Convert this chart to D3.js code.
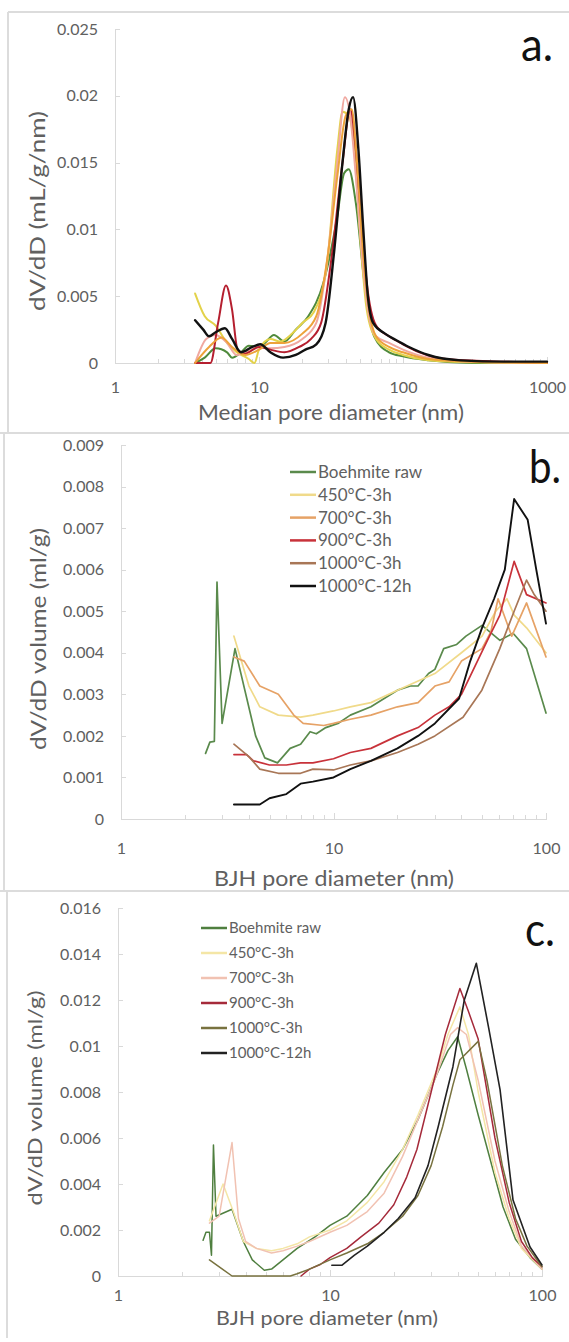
<!DOCTYPE html>
<meta charset="utf-8">
<style>
body { margin: 0; background: #fff; }
svg { display: block; font-family: Lato, "Open Sans", sans-serif; }
.axis path, .axis line { fill: none; stroke: #d9d9d9; shape-rendering: crispEdges; }
.axis text { fill: #606060; font-size: 16px; font-family: Lato, sans-serif; }
.title { fill: #606060; }
.series { fill: none; stroke-linejoin: round; stroke-linecap: round; }
.legend text { fill: #606060; }
.frame { stroke: #dcdcdc; stroke-width: 1.5; shape-rendering: crispEdges; }
</style>
<body>
<script src="https://d3js.org/d3.v7.min.js"></script>
<script>
// series names (same six samples in every panel)
var seriesNames = ["Boehmite raw", "450°C-3h", "700°C-3h", "900°C-3h", "1000°C-3h", "1000°C-12h"];

// ---- panel a : median pore diameter (nm) vs dV/dD (mL/g/nm)
var aRaw = [[3.6,0],[4.2,0.0004],[5,0.0011],[6,0.0008],[6.5,0.0004],[7.5,0.0008],[8.5,0.0013],[10,0.0012],[11,0.0015],[12.7,0.0021],[15,0.0016],[18,0.0025],[22,0.0035],[28,0.006],[35,0.011],[39,0.0142],[42,0.0145],[47,0.012],[54,0.006],[63,0.002],[80,0.0008],[100,0.0005],[150,0.0002],[300,0],[1000,0]];
var a450 = [[3.6,0.0052],[4.2,0.0035],[5,0.0028],[6,0.0015],[7,0.0008],[8.5,0.0003],[9.3,0],[10,0.001],[12,0.0018],[14,0.0016],[17,0.0022],[20,0.003],[24,0.0038],[29.5,0.0072],[35,0.016],[38,0.0188],[42,0.0185],[46,0.016],[50,0.01],[56,0.004],[65,0.0018],[80,0.001],[100,0.0006],[150,0.0002],[300,0.00005],[1000,0]];
var a700 = [[3.6,0],[4.3,0.0018],[5,0.0021],[6,0.0015],[7,0.0006],[8.5,0.0009],[10,0.0012],[12,0.0011],[15,0.0012],[20,0.0018],[25,0.003],[30,0.008],[35,0.015],[39.5,0.0199],[43,0.0185],[47,0.014],[52,0.008],[57,0.004],[65,0.002],[80,0.0015],[100,0.001],[150,0.0004],[300,0.0001],[1000,0]];
var a900 = [[3.6,0],[4.6,0],[5.2,0.003],[5.9,0.0058],[6.5,0.004],[7.1,0.001],[8,0.0007],[10,0.0012],[12,0.001],[15,0.0008],[19,0.0012],[23,0.0018],[27,0.003],[32,0.008],[38,0.015],[43,0.019],[47,0.016],[51,0.011],[56,0.006],[65,0.0028],[80,0.002],[100,0.0014],[130,0.0008],[200,0.0003],[500,0.0001],[1000,0]];
var a1000 = [[3.6,0],[4.5,0.0012],[5.5,0.0019],[6.5,0.0012],[8,0.0006],[10,0.001],[12,0.0015],[15,0.0015],[20,0.0022],[25,0.0035],[30,0.008],[35,0.014],[40,0.0185],[44,0.019],[48,0.015],[53,0.008],[58,0.004],[65,0.002],[80,0.0012],[100,0.0008],[150,0.0003],[300,0.0001],[1000,0]];
var a1000h12 = [[3.6,0.0032],[4.1,0.0025],[4.5,0.002],[5,0.0023],[5.8,0.0026],[6.5,0.0018],[7.5,0.0008],[9,0.0012],[10.2,0.0014],[12,0.0008],[14.7,0.0004],[18,0.0006],[21,0.001],[25,0.0014],[29,0.003],[33,0.008],[38,0.015],[42,0.019],[45,0.0199],[49,0.016],[53,0.01],[57,0.005],[62,0.003],[75,0.0022],[90,0.0017],[110,0.0012],[150,0.0006],[250,0.0002],[500,0.0001],[1000,0.0001]];

// ---- panel b : BJH pore diameter (nm) vs dV/dD volume (ml/g)
var bRaw = [[2.5,0.00158],[2.62,0.00185],[2.75,0.00187],[2.83,0.0057],[2.99,0.0023],[3.44,0.0041],[4.3,0.002],[4.75,0.00147],[5.45,0.00135],[6.25,0.0017],[7,0.0018],[7.76,0.0021],[8.3,0.00205],[9.2,0.0022],[10.5,0.0023],[12,0.0025],[15,0.0027],[20,0.0031],[23,0.0032],[25,0.0032],[28,0.0035],[30,0.0036],[33,0.0041],[38,0.0042],[42,0.0044],[50,0.00466],[60.7,0.0043],[70,0.00447],[81,0.0041],[100,0.00255]];
var b450 = [[3.4,0.0044],[4,0.0032],[4.5,0.0027],[5.5,0.0025],[7,0.00245],[8,0.0025],[10,0.0026],[12,0.0027],[15,0.0028],[20,0.0031],[30,0.0035],[40,0.004],[50,0.0044],[58,0.005],[65.5,0.0053],[71,0.0049],[81,0.0046],[100,0.004]];
var b700 = [[3.4,0.0039],[3.8,0.0038],[4.5,0.0032],[5.5,0.003],[6.5,0.0025],[7.2,0.0023],[9,0.00225],[10,0.0023],[12,0.0024],[15,0.0025],[20,0.0027],[25,0.0028],[30,0.0032],[35,0.0033],[40,0.0038],[50,0.0041],[55,0.0045],[59.5,0.0053],[69,0.0044],[81,0.0052],[100,0.0039]];
var b900 = [[3.4,0.00155],[3.9,0.00155],[4.2,0.0014],[5,0.0013],[6,0.0013],[7,0.00135],[8,0.00135],[10,0.00145],[12,0.0016],[15,0.0017],[20,0.002],[25,0.0022],[30,0.0025],[35,0.0027],[40,0.003],[53,0.0043],[60.6,0.0049],[70.8,0.0062],[81,0.0054],[100,0.0052]];
var b1000 = [[3.4,0.0018],[4,0.0015],[4.5,0.0012],[5.5,0.0011],[7,0.0011],[8,0.0012],[10,0.00118],[12,0.0013],[15,0.0014],[20,0.0016],[25,0.0018],[30,0.002],[40.7,0.00245],[49.9,0.0031],[60.6,0.0041],[70.8,0.005],[81,0.00575],[88,0.0054],[100,0.005]];
var b1000h12 = [[3.4,0.00035],[4.5,0.00035],[5,0.0005],[6,0.0006],[7,0.00085],[8,0.0009],[10,0.001],[12,0.0012],[15,0.0014],[20,0.0017],[25,0.002],[30,0.0023],[39,0.0029],[44,0.0038],[50,0.0046],[57,0.0053],[64,0.006],[70.8,0.0077],[82,0.0072],[90,0.006],[100,0.0047]];

// ---- panel c : BJH pore diameter (nm) vs dV/dD volume (ml/g)
var cRaw = [[2.52,0.00155],[2.6,0.0019],[2.7,0.0019],[2.76,0.0009],[2.82,0.0057],[2.9,0.0026],[3.45,0.0029],[3.9,0.0015],[4.3,0.0007],[4.9,0.00025],[5.3,0.0003],[6,0.0007],[7,0.0012],[8.5,0.0017],[10,0.0022],[12,0.0026],[15,0.0035],[18,0.0045],[22,0.0055],[26,0.0068],[32,0.0088],[36,0.0098],[40,0.0104],[44,0.009],[50,0.007],[65.5,0.003],[75,0.0016],[87.8,0.0008],[100,0.0003]];
var c450 = [[2.7,0.0024],[3.13,0.004],[3.5,0.0028],[3.9,0.0015],[4.5,0.0012],[5.3,0.0011],[6,0.0012],[7,0.0014],[8,0.0017],[10,0.002],[12,0.0024],[15,0.0032],[18,0.0041],[22,0.0055],[26,0.007],[32,0.009],[36,0.0105],[41,0.0117],[45,0.0105],[50,0.008],[60,0.0045],[70,0.0025],[80,0.0012],[100,0.0003]];
var c700 = [[2.7,0.0023],[3,0.0026],[3.45,0.0058],[3.7,0.0025],[4,0.0015],[4.5,0.0012],[5.3,0.001],[6,0.0011],[7,0.0013],[8,0.0015],[10,0.0019],[12,0.0022],[15,0.0028],[18,0.0036],[22,0.0052],[26,0.0068],[32,0.0088],[37,0.0105],[40,0.0108],[44,0.0105],[50,0.0085],[60,0.005],[70,0.0028],[80,0.0013],[100,0.0003]];
var c900 = [[7.3,0],[8,0.0003],[9,0.0005],[10,0.0008],[12,0.0012],[14,0.0017],[17,0.0023],[20,0.0031],[23,0.0043],[25.7,0.0055],[30,0.008],[35,0.0105],[41,0.0125],[45,0.0115],[50,0.0103],[60,0.006],[70,0.0032],[80,0.0015],[90,0.0008],[100,0.0004]];
var c1000 = [[2.7,0.0007],[3.45,0],[4,0],[5,0],[6.5,0],[7,0.0001],[8,0.0003],[10,0.0007],[12,0.001],[15,0.0014],[18,0.0019],[22,0.0026],[26,0.0035],[30,0.0048],[34,0.0065],[38,0.0083],[41,0.0094],[50,0.0102],[55,0.0085],[65,0.0048],[75,0.0025],[85,0.0013],[100,0.0004]];
var c1000h12 = [[10.2,0.00047],[11.4,0.00047],[13,0.0009],[15,0.0013],[18,0.0019],[21,0.0025],[25.2,0.0034],[29,0.0048],[32.4,0.0065],[38,0.0091],[43,0.012],[49,0.0136],[56,0.0108],[63.4,0.0081],[73,0.0033],[87.8,0.00126],[100,0.00048]];

// axis ticks and labels
var aYTicks = [0, 0.005, 0.01, 0.015, 0.02, 0.025];
var aYLabels = ["0", "0.005", "0.01", "0.015", "0.02", "0.025"];
var aXTicks = [1, 10, 100, 1000];
var aXLabels = ["1", "10", "100", "1000"];
var bYTicks = [0, 0.001, 0.002, 0.003, 0.004, 0.005, 0.006, 0.007, 0.008, 0.009];
var bYLabels = ["0", "0.001", "0.002", "0.003", "0.004", "0.005", "0.006", "0.007", "0.008", "0.009"];
var cYTicks = [0, 0.002, 0.004, 0.006, 0.008, 0.01, 0.012, 0.014, 0.016];
var cYLabels = ["0", "0.002", "0.004", "0.006", "0.008", "0.01", "0.012", "0.014", "0.016"];
var bcXTicks = [1, 10, 100];
var bcXLabels = ["1", "10", "100"];

var W = 569, H = 1342;
var svg = d3.select("body").append("svg")
	.attr("width", W)
	.attr("height", H);

// panel frames (the figure is three stacked screenshots)
svg.append("line").attr("class", "frame").attr("x1", 8).attr("x2", W).attr("y1", 12).attr("y2", 12);
svg.append("line").attr("class", "frame").attr("x1", 8).attr("x2", 8).attr("y1", 12).attr("y2", 433);
svg.append("line").attr("class", "frame").attr("x1", 0).attr("x2", W).attr("y1", 433).attr("y2", 433);
svg.append("line").attr("class", "frame").attr("x1", 4).attr("x2", 4).attr("y1", 433).attr("y2", 891);
svg.append("line").attr("class", "frame").attr("x1", 0).attr("x2", W).attr("y1", 891).attr("y2", 891);
svg.append("line").attr("class", "frame").attr("x1", 7).attr("x2", 7).attr("y1", 891).attr("y2", 1338);

function drawPanel(p) {
	var x = d3.scaleLog().domain(p.xDomain).range([p.left, p.right]);
	var y = d3.scaleLinear().domain(p.yDomain).range([p.bottom, p.top]);
	var g = svg.append("g");

	// minor log ticks 2..9 in each decade
	var minor = [];
	for (var dec = p.xDomain[0]; dec < p.xDomain[1]; dec *= 10) {
		for (var k = 2; k <= 9; k++) minor.push(k * dec);
	}

	var xAxis = d3.axisBottom(x)
		.tickValues(p.xTicks.concat(minor))
		.tickSizeInner(-4)
		.tickSizeOuter(0)
		.tickFormat(function (d) {
			var i = p.xTicks.indexOf(d);
			return i < 0 ? "" : p.xLabels[i];
		});

	var gx = g.append("g")
		.attr("class", "x axis")
		.attr("transform", "translate(0," + p.bottom + ")")
		.call(xAxis);
	gx.selectAll(".tick line").attr("y2", function (d) { return p.xTicks.indexOf(d) < 0 ? -4 : -6; });
	gx.selectAll(".tick text").attr("y", p.xLabelOffset).attr("dy", null);

	var yAxis = d3.axisLeft(y)
		.tickValues(p.yTicks)
		.tickFormat(function (d, i) { return p.yLabels[i]; })
		.tickSizeInner(-5)
		.tickSizeOuter(0)
		.tickPadding(17);

	g.append("g")
		.attr("class", "y axis")
		.attr("transform", "translate(" + p.left + ",0)")
		.call(yAxis);

	// the curves
	var line = d3.line()
		.x(function (d) { return x(d[0]); })
		.y(function (d) { return y(d[1]); })
		.curve(p.curve);

	p.series.forEach(function (s, i) {
		g.append("path")
			.attr("class", "series")
			.attr("d", line(s))
			.attr("stroke", p.colors[i])
			.attr("stroke-width", p.widths[i]);
	});

	// axis titles
	g.append("text")
		.attr("class", "title")
		.attr("x", p.xTitle.x)
		.attr("y", p.xTitle.y)
		.attr("text-anchor", "middle")
		.attr("font-size", p.xTitle.size)
		.attr("textLength", p.xTitle.len)
		.attr("lengthAdjust", "spacingAndGlyphs")
		.text(p.xTitle.text);

	g.append("text")
		.attr("class", "title")
		.attr("transform", "translate(" + p.yTitle.x + "," + p.yTitle.y + ") rotate(-90)")
		.attr("text-anchor", "middle")
		.attr("dy", "0.35em")
		.attr("font-size", p.yTitle.size)
		.attr("textLength", p.yTitle.len)
		.attr("lengthAdjust", "spacingAndGlyphs")
		.text(p.yTitle.text);

	// panel letter
	g.append("text")
		.attr("x", p.tag.x)
		.attr("y", p.tag.y)
		.attr("font-size", p.tag.size)
		.attr("fill", "#111")
		.attr("textLength", p.tag.len)
		.attr("lengthAdjust", "spacingAndGlyphs")
		.text(p.tag.text);

	// legend
	if (p.legend) {
		var lg = g.append("g").attr("class", "legend");
		seriesNames.forEach(function (name, i) {
			var cy = p.legend.y + i * p.legend.step;
			lg.append("line")
				.attr("x1", p.legend.x)
				.attr("x2", p.legend.x + 26)
				.attr("y1", cy)
				.attr("y2", cy)
				.attr("stroke", p.colors[i])
				.attr("stroke-width", 2.5);
			lg.append("text")
				.attr("x", p.legend.x + 28)
				.attr("y", cy)
				.attr("dy", "0.35em")
				.attr("font-size", p.legend.size)
				.text(name);
		});
	}
}

drawPanel({
	left: 115, right: 547, top: 29, bottom: 363,
	xDomain: [1, 1000], yDomain: [0, 0.025],
	xTicks: aXTicks, xLabels: aXLabels, yTicks: aYTicks, yLabels: aYLabels,
	xLabelOffset: 30,
	series: [aRaw, a450, a700, a900, a1000, a1000h12],
	colors: ["#4f8a3c", "#e3d24a", "#f0a8a0", "#b51f2f", "#eda23a", "#111111"],
	widths: [2, 2, 2, 2, 2, 2.4],
	curve: d3.curveMonotoneX,
	xTitle: {text: "Median pore diameter (nm)", x: 331, y: 420, size: 21, len: 266},
	yTitle: {text: "dV/dD (mL/g/nm)", x: 38, y: 211, size: 21, len: 200},
	tag: {text: "a.", x: 521, y: 61, size: 46, len: 32},
	legend: null
});

drawPanel({
	left: 121, right: 546, top: 445, bottom: 819,
	xDomain: [1, 100], yDomain: [0, 0.009],
	xTicks: bcXTicks, xLabels: bcXLabels, yTicks: bYTicks, yLabels: bYLabels,
	xLabelOffset: 35,
	series: [bRaw, b450, b700, b900, b1000, b1000h12],
	colors: ["#5a8a4c", "#f0da8a", "#e6a266", "#c8323a", "#a87656", "#111111"],
	widths: [1.7, 1.7, 1.7, 1.7, 1.7, 1.9],
	curve: d3.curveLinear,
	xTitle: {text: "BJH pore diameter (nm)", x: 334, y: 886, size: 21, len: 240},
	yTitle: {text: "dV/dD volume (ml/g)", x: 39, y: 639, size: 21, len: 222},
	tag: {text: "b.", x: 529, y: 483, size: 46, len: 32},
	legend: {x: 290, y: 472, step: 22.8, size: 17}
});

drawPanel({
	left: 118, right: 542, top: 908, bottom: 1276,
	xDomain: [1, 100], yDomain: [0, 0.016],
	xTicks: bcXTicks, xLabels: bcXLabels, yTicks: cYTicks, yLabels: cYLabels,
	xLabelOffset: 25,
	series: [cRaw, c450, c700, c900, c1000, c1000h12],
	colors: ["#4f7f3f", "#f4e6a6", "#f1c2b2", "#a52a3a", "#78723f", "#222222"],
	widths: [1.5, 1.5, 1.5, 1.5, 1.5, 1.6],
	curve: d3.curveLinear,
	xTitle: {text: "BJH pore diameter (nm)", x: 327, y: 1325, size: 19, len: 222},
	yTitle: {text: "dV/dD volume (ml/g)", x: 35, y: 1098, size: 20, len: 215},
	tag: {text: "c.", x: 525, y: 946, size: 46, len: 30},
	legend: {x: 201, y: 928, step: 25, size: 15}
});
</script>
</body>
